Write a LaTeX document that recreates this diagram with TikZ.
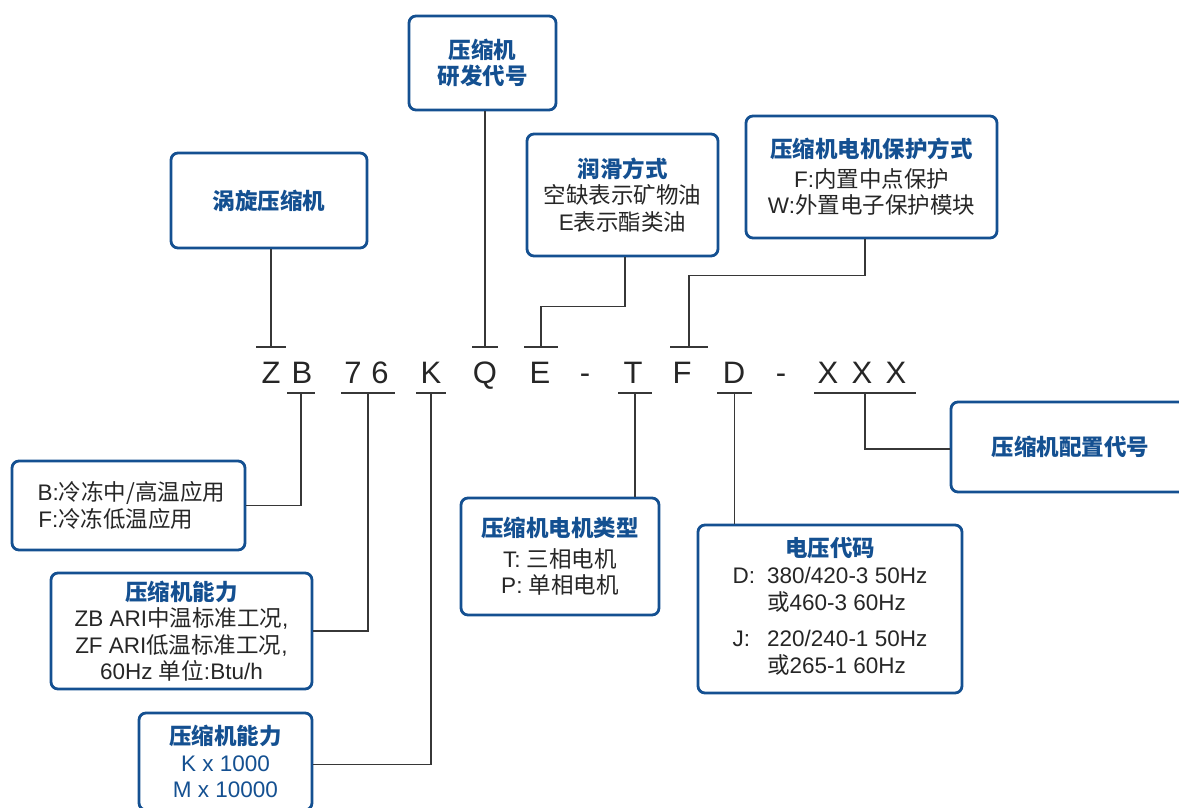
\documentclass[tikz,border=0pt]{standalone}
\usepackage{fontspec}
\setmainfont{Liberation Sans}
\newfontfamily\zh{Noto Sans CJK SC}
\usepackage{tikz}
\usetikzlibrary{positioning}
\definecolor{zbblue}{RGB}{20,80,145}
\definecolor{wiregray}{RGB}{55,55,55}
\newcommand{\boxtitle}[1]{{\color{zbblue}\zh\bfseries #1}}

\begin{document}
\begin{tikzpicture}[x=1pt, y=-1pt,
  box/.style={draw=zbblue, line width=2.8pt, rounded corners=7pt, fill=white, inner sep=0pt,
    align=center, text=black!85, font=\fontsize{22.5}{26.5}\selectfont},
  code/.style={anchor=base, inner sep=0pt, text=black!85, font=\fontsize{31}{31}\selectfont},
  wire/.style={draw=wiregray, line width=1.3pt}]
  \useasboundingbox (0,0) rectangle (1179,807);
  % ---------------- upper boxes
  \node[box, minimum width=196, minimum height=95] (vortex) at (269,200.5) {\boxtitle{涡旋压缩机}};
  \node[box, minimum width=147, minimum height=94] (devcode) at (482.5,63) {\boxtitle{压缩机}\\\boxtitle{研发代号}};
  \node[box, minimum width=191, minimum height=122] (lube) at (622.5,195)
    {\boxtitle{润滑方式}\\{\zh 空缺表示矿物油}\\E{\zh 表示酯类油}};
  \node[box, minimum width=251, minimum height=122] (protect) at (871.5,177)
    {\boxtitle{压缩机电机保护方式}\\[3pt]F:{\zh 内置中点保护}\\W:{\zh 外置电子保护模块}};
  % ---------------- model code
  \foreach \ch/\x/\n in {Z/271/Z, B/302/B, 7/353/7, 6/380/6, K/431/K, Q/485/Q, E/540/E, -/585/d1,
      T/633/T, F/682/F, D/734/D, -/781/d2, X/828/X1, X/862/X2, X/896/X3}{
    \node[code] (c\n) at (\x,383) {\ch};}
  % ticks above (u) and below (l) the code
  \foreach \x/\w/\n in {271/15/Z, 485/13/Q, 541/17/E, 689/19/F}{
    \coordinate (u\n) at (\x,347);
    \draw[wire] ([xshift=-\w pt]u\n) -- ([xshift=\w pt]u\n);}
  \foreach \x/\w/\n in {301/14/B, 368/27/76, 431/15/K, 635/17/T, 734.5/17.5/D, 865/51/X}{
    \coordinate (l\n) at (\x,393);
    \draw[wire] ([xshift=-\w pt]l\n) -- ([xshift=\w pt]l\n);}
  % ---------------- lower boxes
  \node[box, minimum width=233, minimum height=89] (usage) at (128.5,505.5)
    {\hspace{6pt}B:{\zh 冷冻中/高温应用}\\\hspace{6pt}F:{\zh 冷冻低温应用}\hphantom{\zh 中/}};
  \node[box, minimum width=261, minimum height=116] (cap1) at (181.5,631)
    {\boxtitle{压缩机能力}\\ZB ARI{\zh 中温标准工况},\\ZF ARI{\zh 低温标准工况},\\60Hz {\zh 单位}:Btu/h};
  \node[box, minimum width=173, minimum height=97, text=zbblue] (cap2) at (225.5,761.5)
    {\boxtitle{压缩机能力}\\K x 1000\\M x 10000};
  \node[box, minimum width=198, minimum height=117] (motor) at (560,556.5)
    {\boxtitle{压缩机电机类型}\\[4pt]T: {\zh 三相电机}\\P: {\zh 单相电机}};
  \node[box, minimum width=264, minimum height=168] (volt) at (830,609)
    {\boxtitle{电压代码}\\[6pt]\begin{tabular}{@{}l@{\hspace{12pt}}l@{}}
      D: & 380/420-3 50Hz\\ & {\zh 或}460-3 60Hz\\[9pt]
      J: & 220/240-1 50Hz\\ & {\zh 或}265-1 60Hz\end{tabular}\hspace{8pt}};
  \node[box, minimum width=239, minimum height=90] (config) at (1070.5,447) {\boxtitle{压缩机配置代号}};
  % ---------------- connectors
  \draw[wire] (uZ) -- (uZ |- vortex.south);
  \draw[wire] (uQ) -- (uQ |- devcode.south);
  \draw[wire] ([xshift=2.5pt]lube.south) -- ++(0,49) -| (uE);
  \draw[wire] ([xshift=-6.5pt]protect.south) -- ++(0,36) -| (uF);
  \draw[wire] (usage.east) -| (lB);
  \draw[wire] (cap1.east) -| (l76);
  \draw[wire] ([yshift=-3pt]cap2.east) -| (lK);
  \draw[wire] (lT) -- (lT |- motor.north);
  \draw[wire] (lD) -- (lD |- volt.north);
  \draw[wire] (lX) |- ([yshift=-2pt]config.west);
\end{tikzpicture}
\end{document}
